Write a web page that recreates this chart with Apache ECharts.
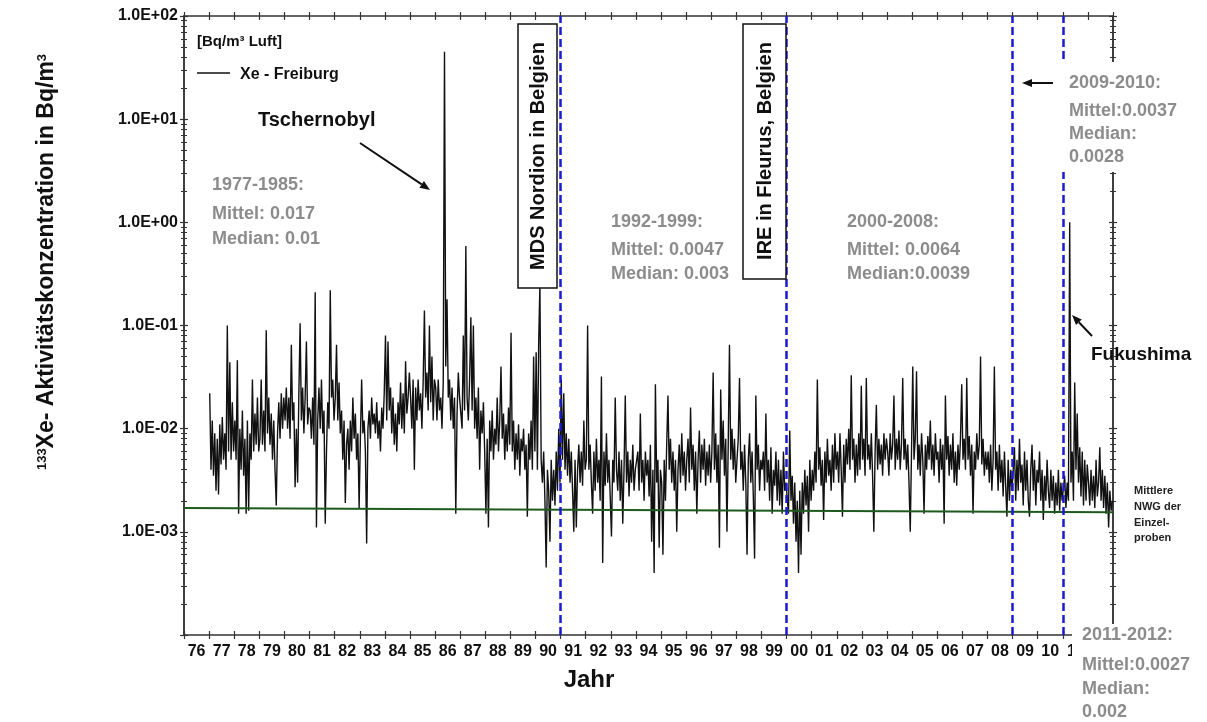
<!DOCTYPE html>
<html>
<head>
<meta charset="utf-8">
<script src="https://cdn.jsdelivr.net/npm/echarts@6/dist/echarts.min.js"></script>
<style>
  html, body { margin: 0; padding: 0; background: #fff; }
  #chart { width: 1207px; height: 722px; }
</style>
</head>
<body>
<div id="chart"></div>
<script>
const years = [1977, 1978, 1979, 1980, 1981, 1982, 1983, 1984, 1985, 1986, 1987, 1988,
  1989, 1990, 1991, 1992, 1993, 1994, 1995, 1996, 1997, 1998, 1999, 2000,
  2001, 2002, 2003, 2004, 2005, 2006, 2007, 2008, 2009, 2010, 2011, 2012];

const xe1977 = [0.022, 0.004, 0.012, 0.0035, 0.009, 0.0025, 0.008, 0.0023, 0.011, 0.0045, 0.013, 0.005, 0.009, 0.004, 0.1, 0.006, 0.044, 0.005, 0.018, 0.006];
const xe1978 = [0.012, 0.005, 0.046, 0.0015, 0.01, 0.004, 0.015, 0.0035, 0.008, 0.0015, 0.012, 0.0016, 0.009, 0.005, 0.03, 0.006, 0.014, 0.007, 0.02, 0.006];
const xe1979 = [0.008, 0.03, 0.007, 0.015, 0.006, 0.09, 0.009, 0.02, 0.007, 0.014, 0.005, 0.012, 0.004, 0.0018, 0.009, 0.018, 0.008, 0.022, 0.01, 0.02];
const xe1980 = [0.012, 0.025, 0.01, 0.02, 0.008, 0.065, 0.012, 0.018, 0.0027, 0.01, 0.003, 0.022, 0.105, 0.012, 0.025, 0.009, 0.02, 0.07, 0.011, 0.016];
const xe1981 = [0.015, 0.008, 0.02, 0.007, 0.21, 0.0011, 0.012, 0.025, 0.01, 0.03, 0.009, 0.015, 0.0012, 0.006, 0.018, 0.01, 0.22, 0.02, 0.03, 0.012];
const xe1982 = [0.02, 0.065, 0.012, 0.028, 0.009, 0.015, 0.005, 0.012, 0.0019, 0.007, 0.01, 0.004, 0.012, 0.006, 0.02, 0.008, 0.014, 0.005, 0.009, 0.0017];
const xe1983 = [0.008, 0.03, 0.009, 0.012, 0.006, 0.00077, 0.01, 0.015, 0.008, 0.02, 0.011, 0.014, 0.009, 0.018, 0.008, 0.012, 0.006, 0.016, 0.01, 0.022];
const xe1984 = [0.08, 0.012, 0.07, 0.015, 0.025, 0.009, 0.02, 0.007, 0.014, 0.006, 0.018, 0.011, 0.028, 0.01, 0.022, 0.009, 0.045, 0.014, 0.02, 0.035];
const xe1985 = [0.02, 0.01, 0.03, 0.004, 0.025, 0.012, 0.03, 0.015, 0.022, 0.01, 0.028, 0.14, 0.02, 0.035, 0.015, 0.1, 0.018, 0.05, 0.012, 0.03];
const xe1986 = [0.025, 0.012, 0.03, 0.015, 0.02, 0.01, 0.028, 45, 0.04, 0.18, 0.02, 0.03, 0.012, 0.025, 0.01, 0.02, 0.0015, 0.014, 0.035, 0.02];
const xe1987 = [0.02, 0.01, 0.08, 0.015, 0.59, 0.02, 0.012, 0.03, 0.12, 0.015, 0.1, 0.01, 0.02, 0.008, 0.025, 0.004, 0.015, 0.009, 0.018, 0.006];
const xe1988 = [0.0015, 0.008, 0.0011, 0.012, 0.006, 0.015, 0.005, 0.01, 0.007, 0.02, 0.006, 0.012, 0.04, 0.008, 0.014, 0.005, 0.011, 0.006, 0.016, 0.007];
const xe1989 = [0.085, 0.006, 0.012, 0.004, 0.009, 0.005, 0.011, 0.0035, 0.008, 0.006, 0.01, 0.004, 0.007, 0.0014, 0.009, 0.005, 0.012, 0.004, 0.05, 0.006];
const xe1990 = [0.055, 0.004, 0.065, 0.25, 0.005, 0.003, 0.006, 0.002, 0.00045, 0.004, 0.0025, 0.0008, 0.005, 0.002, 0.004, 0.0018, 0.006, 0.0025, 0.01, 0.003];
const xe1991 = [0.03, 0.005, 0.022, 0.004, 0.009, 0.0035, 0.008, 0.003, 0.006, 0.0025, 0.001, 0.005, 0.0011, 0.004, 0.007, 0.003, 0.006, 0.0028, 0.012, 0.004];
const xe1992 = [0.005, 0.1, 0.004, 0.007, 0.003, 0.0015, 0.006, 0.0025, 0.008, 0.003, 0.005, 0.002, 0.032, 0.0005, 0.006, 0.0028, 0.009, 0.003, 0.005, 0.0022];
const xe1993 = [0.0009, 0.005, 0.003, 0.02, 0.004, 0.0025, 0.006, 0.002, 0.005, 0.0012, 0.004, 0.021, 0.003, 0.006, 0.0022, 0.005, 0.003, 0.007, 0.0025, 0.004];
const xe1994 = [0.004, 0.006, 0.0025, 0.014, 0.003, 0.005, 0.002, 0.006, 0.0035, 0.005, 0.0022, 0.007, 0.0008, 0.004, 0.0004, 0.027, 0.003, 0.005, 0.0007, 0.004];
const xe1995 = [0.003, 0.0006, 0.005, 0.002, 0.007, 0.021, 0.004, 0.008, 0.003, 0.006, 0.0025, 0.005, 0.001, 0.004, 0.007, 0.003, 0.009, 0.0035, 0.006, 0.0025];
const xe1996 = [0.005, 0.008, 0.003, 0.016, 0.004, 0.007, 0.0025, 0.006, 0.0015, 0.005, 0.0096, 0.003, 0.007, 0.004, 0.008, 0.0028, 0.006, 0.0035, 0.007, 0.003];
const xe1997 = [0.006, 0.035, 0.004, 0.009, 0.003, 0.007, 0.0007, 0.024, 0.005, 0.012, 0.0035, 0.008, 0.001, 0.007, 0.065, 0.005, 0.01, 0.004, 0.008, 0.003];
const xe1998 = [0.005, 0.008, 0.031, 0.004, 0.006, 0.0025, 0.007, 0.003, 0.0006, 0.005, 0.009, 0.003, 0.006, 0.0022, 0.00055, 0.021, 0.004, 0.007, 0.0025, 0.005];
const xe1999 = [0.004, 0.006, 0.0025, 0.014, 0.003, 0.005, 0.002, 0.0066, 0.0015, 0.004, 0.0028, 0.006, 0.002, 0.005, 0.0018, 0.004, 0.0015, 0.006, 0.0025, 0.003];
const xe2000 = [0.003, 0.0015, 0.0096, 0.002, 0.0035, 0.0012, 0.003, 0.0008, 0.002, 0.0004, 0.0025, 0.0006, 0.003, 0.0015, 0.004, 0.0018, 0.0035, 0.001, 0.005, 0.002];
const xe2001 = [0.004, 0.0025, 0.006, 0.003, 0.03, 0.004, 0.0066, 0.0028, 0.005, 0.0013, 0.006, 0.003, 0.008, 0.0035, 0.005, 0.0025, 0.007, 0.003, 0.009, 0.004];
const xe2002 = [0.006, 0.003, 0.009, 0.004, 0.0014, 0.007, 0.003, 0.008, 0.0045, 0.01, 0.004, 0.033, 0.005, 0.008, 0.003, 0.007, 0.0035, 0.009, 0.004, 0.026];
const xe2003 = [0.005, 0.008, 0.0035, 0.031, 0.005, 0.007, 0.004, 0.009, 0.0035, 0.001, 0.006, 0.017, 0.004, 0.008, 0.0045, 0.007, 0.0035, 0.009, 0.005, 0.008];
const xe2004 = [0.006, 0.0035, 0.009, 0.005, 0.007, 0.021, 0.004, 0.008, 0.005, 0.0096, 0.004, 0.007, 0.031, 0.005, 0.008, 0.004, 0.007, 0.003, 0.001, 0.006];
const xe2005 = [0.04, 0.005, 0.008, 0.036, 0.004, 0.007, 0.0035, 0.009, 0.005, 0.0015, 0.007, 0.004, 0.0085, 0.005, 0.012, 0.004, 0.007, 0.0035, 0.009, 0.005];
const xe2006 = [0.006, 0.003, 0.008, 0.004, 0.007, 0.0012, 0.021, 0.005, 0.0085, 0.0035, 0.007, 0.004, 0.009, 0.003, 0.006, 0.0028, 0.007, 0.004, 0.008, 0.027];
const xe2007 = [0.005, 0.008, 0.004, 0.031, 0.005, 0.0085, 0.0035, 0.007, 0.0015, 0.006, 0.004, 0.009, 0.005, 0.007, 0.05, 0.0045, 0.008, 0.0035, 0.006, 0.004];
const xe2008 = [0.006, 0.003, 0.007, 0.0025, 0.005, 0.04, 0.004, 0.006, 0.0025, 0.007, 0.003, 0.005, 0.0022, 0.006, 0.0028, 0.0014, 0.005, 0.002, 0.004, 0.0025];
const xe2009 = [0.004, 0.0066, 0.002, 0.005, 0.0025, 0.008, 0.003, 0.0045, 0.0018, 0.006, 0.0025, 0.005, 0.002, 0.0014, 0.004, 0.007, 0.0025, 0.005, 0.0018, 0.004];
const xe2010 = [0.003, 0.006, 0.002, 0.004, 0.0013, 0.0035, 0.002, 0.005, 0.0025, 0.0017, 0.004, 0.002, 0.0035, 0.0015, 0.003, 0.0018, 0.004, 0.0016, 0.003, 0.002];
const xe2011 = [0.002, 0.0035, 0.0017, 0.003, 0.002, 1.0, 0.003, 0.006, 0.002, 0.028, 0.004, 0.014, 0.003, 0.0066, 0.0022, 0.006, 0.0018, 0.005, 0.002, 0.0045];
const xe2012 = [0.003, 0.0018, 0.004, 0.002, 0.0035, 0.0017, 0.005, 0.0022, 0.003, 0.0066, 0.002, 0.004, 0.0017, 0.0035, 0.0015, 0.003, 0.0011, 0.0025, 0.0016, 0.002];

const yearValues = [xe1977, xe1978, xe1979, xe1980, xe1981, xe1982, xe1983, xe1984, xe1985,
  xe1986, xe1987, xe1988, xe1989, xe1990, xe1991, xe1992, xe1993, xe1994, xe1995, xe1996,
  xe1997, xe1998, xe1999, xe2000, xe2001, xe2002, xe2003, xe2004, xe2005, xe2006, xe2007,
  xe2008, xe2009, xe2010, xe2011, xe2012];

// mittlere Nachweisgrenze (Anfang / Ende)
const nwgLine = [[1976, 0.0017], [2013, 0.00155]];
// gestrichelte Markierungen
const markerYears = [1991, 2000, 2009, 2011];
// Achsenbeschriftung Jahre
const yearLabels = ['76', '77', '78', '79', '80', '81', '82', '83', '84', '85', '86', '87', '88',
  '89', '90', '91', '92', '93', '94', '95', '96', '97', '98', '99', '00', '01', '02', '03',
  '04', '05', '06', '07', '08', '09', '10', '11', '12'];

const xeData = [];
yearValues.forEach((vals, k) => {
  vals.forEach((v, i) => xeData.push([years[k] + (i + 0.5) / vals.length, v]));
});

const FONT = "'Liberation Sans', Arial, sans-serif";
const GREY = '#8c8c8c';
const AXIS = '#333';

function expLabel(v) {
  const e = Math.round(Math.log10(v));
  if (e < -3) return '';
  return '1.0E' + (e < 0 ? '-' : '+') + String(Math.abs(e)).padStart(2, '0');
}

// Wertachse für x (Jahre), einmal mit Ticks nach aussen, einmal nach innen
function yearAxis(position, inside, showLine) {
  return {
    type: 'value', min: 1976, max: 2013, interval: 1, position: position,
    axisLine: { show: showLine, onZero: false, lineStyle: { color: AXIS, width: 1.5 } },
    axisTick: { show: true, inside: inside, length: 4, lineStyle: { color: AXIS, width: 1.2 } },
    axisLabel: { show: false },
    splitLine: { show: false }
  };
}
function logAxis(position, inside, showLabels) {
  return {
    type: 'log', logBase: 10, min: 0.0001, max: 100, interval: 1, position: position,
    axisLine: { show: true, onZero: false, lineStyle: { color: AXIS, width: 1.5 } },
    axisTick: { show: true, inside: inside, length: 4, lineStyle: { color: AXIS, width: 1.2 } },
    minorTick: { show: true, splitNumber: 9, length: 3, lineStyle: { color: AXIS, width: 1 } },
    axisLabel: {
      show: showLabels, formatter: expLabel, margin: 6,
      color: '#111', fontFamily: FONT, fontWeight: 'bold', fontSize: 16
    },
    splitLine: { show: false }
  };
}

function txt(x, y, text, opts) {
  return Object.assign({
    type: 'text', x: x, y: y, z: 110,
    style: Object.assign({
      text: text, fill: '#111', font: 'bold 16px ' + FONT,
      textAlign: 'left', textVerticalAlign: 'middle'
    }, opts || {})
  });
}
function greyText(x, y, text) {
  return txt(x, y, text, { fill: GREY, font: 'bold 18px ' + FONT });
}
function arrow(x1, y1, x2, y2) {
  const a = Math.atan2(y2 - y1, x2 - x1);
  const L = 10, W = 4;
  const bx = x2 - L * Math.cos(a), by = y2 - L * Math.sin(a);
  return [
    { type: 'line', z: 110, shape: { x1: x1, y1: y1, x2: bx, y2: by }, style: { stroke: '#111', lineWidth: 2 } },
    { type: 'polygon', z: 110, shape: { points: [[x2, y2],
      [bx + W * Math.sin(a), by - W * Math.cos(a)], [bx - W * Math.sin(a), by + W * Math.cos(a)]] },
      style: { fill: '#111' } }
  ];
}

const chart = echarts.init(document.getElementById('chart'), null, { renderer: 'canvas' });

const graphics = [
  // Abdeckungen
  { type: 'rect', z: 100, shape: { x: 1055, y: 62, width: 152, height: 110 }, style: { fill: '#fff' } },
  { type: 'rect', z: 100, shape: { x: 1072, y: 624, width: 135, height: 98 }, style: { fill: '#fff' } },
  // Kästen
  { type: 'rect', z: 100, shape: { x: 518, y: 24, width: 39, height: 264 }, style: { fill: '#fff', stroke: '#111', lineWidth: 1.5 } },
  { type: 'text', z: 110, x: 538, y: 156, rotation: Math.PI / 2,
    style: { text: 'MDS Nordion in Belgien', fill: '#111', font: 'bold 20px ' + FONT, textAlign: 'center', textVerticalAlign: 'middle' } },
  { type: 'rect', z: 100, shape: { x: 743, y: 24, width: 43, height: 255 }, style: { fill: '#fff', stroke: '#111', lineWidth: 1.5 } },
  { type: 'text', z: 110, x: 765, y: 151, rotation: Math.PI / 2,
    style: { text: 'IRE in Fleurus, Belgien', fill: '#111', font: 'bold 20px ' + FONT, textAlign: 'center', textVerticalAlign: 'middle' } },
  // Legende
  txt(197, 42, '[Bq/m³ Luft]', { font: 'bold 15px ' + FONT }),
  { type: 'line', z: 110, shape: { x1: 197, y1: 73, x2: 230, y2: 73 }, style: { stroke: '#111', lineWidth: 1.5 } },
  txt(240, 75, 'Xe - Freiburg', { font: 'bold 16px ' + FONT }),
  // Ereignisse
  txt(258, 120, 'Tschernobyl', { font: 'bold 20px ' + FONT }),
  ...arrow(360, 143, 430, 190),
  txt(1091, 355, 'Fukushima', { font: 'bold 19px ' + FONT }),
  ...arrow(1092, 336, 1072, 315),
  ...arrow(1053, 83, 1022, 83),
  // Perioden
  greyText(212, 185, '1977-1985:'), greyText(212, 214, 'Mittel: 0.017'), greyText(212, 239, 'Median: 0.01'),
  greyText(611, 222, '1992-1999:'), greyText(611, 250, 'Mittel: 0.0047'), greyText(611, 274, 'Median: 0.003'),
  greyText(847, 222, '2000-2008:'), greyText(847, 250, 'Mittel: 0.0064'), greyText(847, 274, 'Median:0.0039'),
  greyText(1069, 83, '2009-2010:'), greyText(1069, 111, 'Mittel:0.0037'), greyText(1069, 134, 'Median:'), greyText(1069, 157, '0.0028'),
  greyText(1082, 635, '2011-2012:'), greyText(1082, 665, 'Mittel:0.0027'), greyText(1082, 689, 'Median:'), greyText(1082, 712, '0.002'),
  // NWG
  txt(1134, 491, 'Mittlere', { font: 'bold 11px ' + FONT, fill: '#222' }),
  txt(1134, 507, 'NWG der', { font: 'bold 11px ' + FONT, fill: '#222' }),
  txt(1134, 523, 'Einzel-', { font: 'bold 11px ' + FONT, fill: '#222' }),
  txt(1134, 538, 'proben', { font: 'bold 11px ' + FONT, fill: '#222' }),
  // Achsentitel
  { type: 'text', z: 110, x: 47, y: 262, rotation: Math.PI / 2,
    style: {
      text: '{s|133}Xe- Aktivitätskonzentration in Bq/m{s|3}',
      fill: '#111', font: 'bold 23px ' + FONT, textAlign: 'center', textVerticalAlign: 'middle',
      rich: { s: { fontSize: 13, fontWeight: 'bold', fontFamily: FONT, verticalAlign: 'top', padding: [0, 0, 9, 0] } }
    } },
  txt(589, 680, 'Jahr', { font: 'bold 24px ' + FONT, textAlign: 'center' })
];

const option = {
  backgroundColor: '#fff',
  animation: false,
  grid: { left: 184, right: 94, top: 16, bottom: 87, containLabel: false, outerBoundsMode: 'none' },
  xAxis: [
    yearAxis('bottom', false, true),
    yearAxis('bottom', true, false),
    {
      type: 'category', data: yearLabels, boundaryGap: true, position: 'bottom',
      axisLine: { show: false }, axisTick: { show: false },
      axisLabel: { interval: 0, margin: 9, color: '#111', fontFamily: FONT, fontWeight: 'bold', fontSize: 16 }
    },
    yearAxis('top', false, true),
    yearAxis('top', true, false)
  ],
  yAxis: [
    logAxis('left', false, true),
    logAxis('left', true, false),
    logAxis('right', false, false),
    logAxis('right', true, false)
  ],
  series: [
    {
      name: 'Xe - Freiburg', type: 'line', data: xeData, showSymbol: false,
      xAxisIndex: 0, yAxisIndex: 0, z: 3,
      lineStyle: { color: '#111', width: 1.4 },
      markLine: {
        silent: true, symbol: 'none', label: { show: false },
        lineStyle: { color: '#1a1ad0', width: 2.5, type: [8, 4] },
        data: markerYears.map(y => ({ xAxis: y }))
      }
    },
    {
      name: 'NWG', type: 'line', data: nwgLine, showSymbol: false,
      xAxisIndex: 0, yAxisIndex: 0, z: 4,
      lineStyle: { color: '#1d5a1d', width: 2 }
    }
  ],
  graphic: graphics
};
chart.setOption(option);
</script>
</body>
</html>
